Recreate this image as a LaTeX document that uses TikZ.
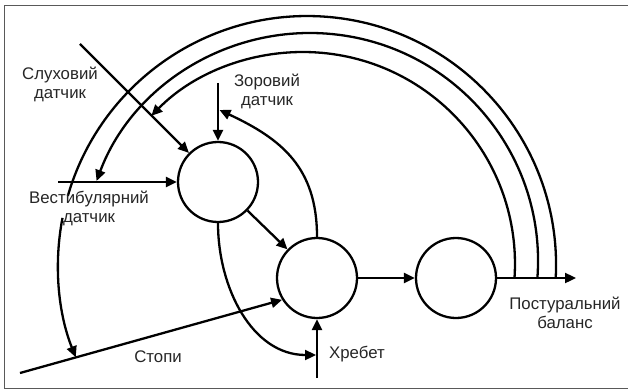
\documentclass[tikz,border=0pt]{standalone}
\usepackage{fontspec}
\setmainfont{Liberation Sans}
\usetikzlibrary{arrows.meta}

\tikzset{
  blk/.style={draw, circle, line width=2.3pt, minimum size=80pt, inner sep=0pt},
  lbl/.style={font=\fontsize{16.8}{19}\selectfont, align=center, inner sep=0pt, text=black!85},
  ln/.style={line width=2.3pt},
  arr/.style={line width=2.3pt, -{Triangle[length=11pt,width=10pt]}},
}

\begin{document}
\begin{tikzpicture}[x=1pt,y=1pt]
\useasboundingbox (0,0) rectangle (628,-390);
\draw[line width=1.5pt, color=black!65] (628,-5.5) -- (4.5,-5.5) -- (4.5,-388.5) -- (628,-388.5);

% blocks
\node[blk] (cns) at (218,-182) {};
\node[blk] (cord) at (317,-278) {};
\node[blk] (body) at (456,-278) {};

% free ends
\coordinate (aud) at (80,-44);
\coordinate (vis) at (218,-83);
\coordinate (vest) at (58,-182);
\coordinate (feet) at (20,-373);
\coordinate (spine) at (317,-378);
\coordinate (out) at (576,-278);
\coordinate (visin) at (219.5,-110);
\coordinate (spinein) at (316,-355);

\draw[arr] (aud) -- (cns);
\draw[arr] (vis) -- (cns);
\draw[arr] (vest) -- (cns);
\draw[arr] (cns) -- (cord);
\draw[arr] (feet) -- (cord.212);
\draw[arr] (spine) -- (cord);
\draw[arr] (cord) -- (body);
\draw[arr] (body) -- (out);
\draw[arr] (cord.north) to[out=90,in=-25,looseness=1.1] (visin);
\draw[arr] (cns.south) to[out=-90,in=180] (spinein);

% feedback loops
\coordinate (fb1) at (514.5,-278);
\coordinate (fb2) at (537.4,-278);
\coordinate (fb3) at (555.7,-278);
\coordinate (vestdn) at (62.5,-217.9);
\draw[arr] (fb1) arc[start angle=-3.79, end angle=135.67, radius=212];
\draw[arr] (fb2) arc[start angle=-4.28, end angle=159.46, radius=228];
\draw[ln] (fb3) arc[start angle=-2.99, end angle=163.9, radius=249];
\draw[arr] (vestdn) arc[start angle=169.1, end angle=201.76, radius=249];

% labels
\node[lbl] (audl) at (60,-84) {Слуховий\\датчик};
\node[lbl] (visl) at (267,-91) {Зоровий\\датчик};
\node[lbl] (vestl) at (89,-208) {Вестибулярний\\датчик};
\node[lbl, anchor=base] (feetl) at (158,-362.5) {Стопи};
\node[lbl, anchor=base] (spinel) at (357,-358) {Хребет};
\node[lbl] (outl) at (565,-313) {Постуральний\\баланс};

\end{tikzpicture}
\end{document}
